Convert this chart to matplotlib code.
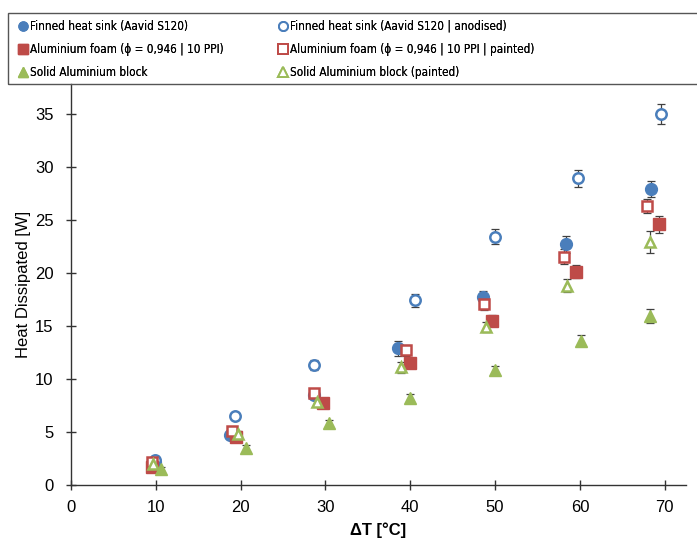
import matplotlib.pyplot as plt
from matplotlib.lines import Line2D
from matplotlib.patches import Rectangle
from matplotlib.font_manager import FontProperties

plt.rcParams['font.family'] = ['Liberation Sans', 'DejaVu Sans']

# ---- data ----
finned_x = [9.9, 18.8, 28.7, 38.6, 48.6, 58.4, 68.4]
finned_y = [2.2, 4.7, 8.5, 12.9, 17.7, 22.7, 27.9]
finned_err = [0.3, 0.3, 0.4, 0.7, 0.6, 0.8, 0.75]

anod_x = [9.9, 19.3, 28.7, 40.6, 50.0, 59.8, 69.6]
anod_y = [2.4, 6.5, 11.3, 17.4, 23.4, 28.9, 35.0]
anod_err = [0.3, 0.3, 0.5, 0.6, 0.7, 0.8, 0.95]

foam_x = [9.5, 19.5, 29.7, 40.0, 49.6, 59.5, 69.3]
foam_y = [1.7, 4.5, 7.7, 11.5, 15.5, 20.1, 24.6]
foam_err = [0.2, 0.3, 0.3, 0.4, 0.5, 0.6, 0.8]

foamp_x = [9.6, 19.0, 28.7, 39.5, 48.7, 58.1, 67.9]
foamp_y = [2.2, 5.1, 8.7, 12.7, 17.1, 21.5, 26.3]
foamp_err = [0.2, 0.3, 0.3, 0.5, 0.6, 0.7, 0.7]

solid_x = [10.6, 20.6, 30.4, 40.0, 50.0, 60.1, 68.3]
solid_y = [1.5, 3.5, 5.8, 8.2, 10.8, 13.6, 15.9]
solid_err = [0.2, 0.3, 0.3, 0.4, 0.4, 0.5, 0.65]

solidp_x = [9.7, 19.7, 29.0, 38.9, 48.9, 58.5, 68.3]
solidp_y = [2.0, 4.8, 7.8, 11.1, 14.9, 18.8, 22.9]
solidp_err = [0.2, 0.3, 0.3, 0.5, 0.5, 0.6, 1.0]

labels = ['Finned heat sink (Aavid S120)',
          'Finned heat sink (Aavid S120 | anodised)',
          'Aluminium foam (\u03d5 = 0,946 | 10 PPI)',
          'Aluminium foam (\u03d5 = 0,946 | 10 PPI | painted)',
          'Solid Aluminium block',
          'Solid Aluminium block (painted)']

blue = '#4a7ebb'
red = '#be4b48'
green = '#9bbb59'

fig = plt.figure(figsize=(6.97, 5.42), dpi=100)
ax = fig.add_axes([71/697, 57/542, 615/697, 401/542])

series = [
    (finned_x, finned_y, finned_err, 'o', blue, True, 8.5),
    (anod_x, anod_y, anod_err, 'o', blue, False, 7.5),
    (foam_x, foam_y, foam_err, 's', red, True, 8.5),
    (foamp_x, foamp_y, foamp_err, 's', red, False, 7.5),
    (solid_x, solid_y, solid_err, '^', green, True, 8.5),
    (solidp_x, solidp_y, solidp_err, '^', green, False, 7.5),
]

handles = []
for (x, y, e, m, c, filled, ms), lab in zip(series, labels):
    ax.errorbar(x, y, yerr=e, fmt='none', ecolor='#404040', elinewidth=0.9,
                capsize=3, capthick=0.9, zorder=2)
    fc = c if filled else 'white'
    ax.plot(x, y, linestyle='none', marker=m, markersize=ms, markerfacecolor=fc,
            markeredgecolor=c, markeredgewidth=1.0 if filled else 1.8, zorder=3)
    handles.append(Line2D([], [], linestyle='none', marker=m, markersize=6.5,
                          markerfacecolor=fc, markeredgecolor=c,
                          markeredgewidth=1.0 if filled else 1.4, label=lab))

ax.set_xlim(0, 72.5)
ax.set_ylim(0, 37.8)
ax.set_xticks(range(0, 71, 10))
ax.set_yticks(range(0, 36, 5))
ax.spines['top'].set_visible(False)
ax.spines['right'].set_visible(False)
for s in ['left', 'bottom']:
    ax.spines[s].set_color('#333333')
    ax.spines[s].set_linewidth(1.0)
ax.tick_params(direction='inout', length=7, width=1.0, labelsize=12, color='#333333')
ax.tick_params(axis='y', pad=9)
ax.tick_params(axis='x', pad=7)
ax.set_xlabel('\u0394T [\u00b0C]', fontsize=12, fontweight='bold', labelpad=6)
ax.set_ylabel('Heat Dissipated [W]', fontsize=12, labelpad=3)

# legend: two columns, frame drawn separately so it runs off the right edge
legfont = FontProperties(family=['DejaVu Sans'], stretch='condensed', size=8.4)
col_x = [18/697, 278/697]
for col in range(2):
    idx = [col, col + 2, col + 4]
    leg = fig.legend([handles[i] for i in idx], [labels[i] for i in idx],
                     loc='upper left', bbox_to_anchor=(col_x[col], 1 - 20/542),
                     prop=legfont, frameon=False, handlelength=0.8,
                     handletextpad=0.25, borderpad=0.0, labelspacing=0.85,
                     borderaxespad=0)
    fig.add_artist(leg)

fig.add_artist(Rectangle((8/697, 1 - 84/542), 700/697, 71/542, transform=fig.transFigure,
                         fill=False, edgecolor='#555555', linewidth=1.0))

fig.savefig('out.png', dpi=100)
